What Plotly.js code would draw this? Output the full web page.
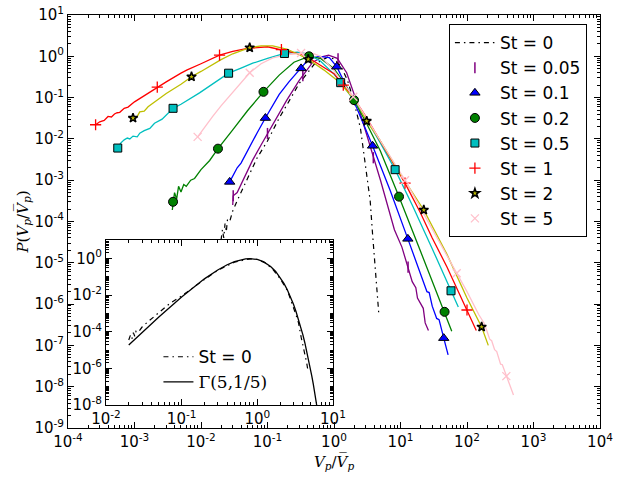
<!DOCTYPE html>
<html>
<head>
<meta charset="utf-8">
<script src="https://cdn.plot.ly/plotly-3.0.1.min.js"></script>
<style>html,body{margin:0;padding:0;background:#fff;}#chart{width:623px;height:481px;}</style>
</head>
<body>
<div id="chart"></div>
<script>
// ---------- data ----------
// St = 0 (black, dash-dot)
const st0_x = [0.020,0.021,0.022,0.023,0.024,0.025,0.027,0.030,0.035,0.040,0.050,0.070,0.10,0.15,0.20,0.30,0.50,0.80,1.0,1.26,1.6,2.0,2.5,3.2,3.5,3.8,4.2,4.5,4.7];
const st0_y = [3.5e-5,6.3e-5,4.0e-5,8.9e-5,5.6e-5,1.1e-4,1.0e-4,1.8e-4,3.2e-4,5.0e-4,1.1e-3,3.5e-3,8.9e-3,0.032,0.071,0.22,0.63,0.95,0.87,0.59,0.26,0.079,0.018,1.0e-3,3.2e-4,5.0e-5,7.9e-6,2.0e-6,6.3e-7];

// St = 0.05 (purple)
const st005_x = [0.030,0.0305,0.035,0.040,0.050,0.060,0.080,0.10,0.195,0.30,0.48,0.70,0.83,1.12,1.55,2.2,2.57,3.5,5.0,8.1,10.5,15,17,18,20,22,23.5,26.3];
const st005_y = [2.5e-4,4.2e-4,5.0e-4,7.9e-4,1.66e-3,3.1e-3,7.1e-3,0.0135,0.087,0.26,0.72,1.0,1.07,0.89,0.40,0.079,0.034,6.3e-3,1.0e-3,6.3e-5,2.4e-5,3.5e-6,2.5e-6,1.4e-6,1.0e-6,7.9e-7,3.5e-7,2.3e-7];
const st005_mx = [0.0305,0.10,0.34,1.15,3.9,13];
const st005_my = [4.2e-4,0.0135,0.34,0.87,3.5e-3,7.9e-6];

// St = 0.1 (blue)
const st01_x = [0.027,0.030,0.035,0.040,0.050,0.070,0.093,0.15,0.21,0.32,0.42,0.60,0.85,1.1,1.5,2.2,3.8,7.0,12.9,20,25,27,30,35,38,44.7,52];
const st01_y = [9.1e-4,1.26e-3,2.0e-3,2.6e-3,5.2e-3,0.0141,0.032,0.12,0.24,0.51,0.87,1.0,0.93,0.56,0.20,0.056,6.8e-3,5.6e-4,3.8e-5,5.6e-6,2.0e-6,1.9e-6,8.9e-7,4.5e-7,4.2e-7,1.5e-7,5.9e-8];
const st01_mx = [0.027,0.093,0.32,1.1,3.8,12.9,44.7];
const st01_my = [9.1e-4,0.032,0.51,0.56,6.8e-3,3.8e-5,1.5e-7];

// St = 0.2 (green)
const st02_x = [0.0037,0.0038,0.0040,0.0043,0.0046,0.0050,0.0055,0.0060,0.0070,0.0080,0.010,0.0135,0.018,0.030,0.050,0.087,0.15,0.25,0.42,0.63,1.0,1.5,2.0,3.0,5.0,9.5,20,30,46,59];
const st02_y = [1.9e-4,3.0e-4,5.0e-4,3.5e-4,7.1e-4,5.2e-4,7.9e-4,7.1e-4,1.0e-3,1.1e-3,1.8e-3,3.0e-3,5.8e-3,0.0166,0.048,0.138,0.35,0.72,1.0,0.89,0.50,0.20,0.087,0.026,5.0e-3,4.0e-4,1.9e-5,3.5e-6,6.5e-7,2.2e-7];
const st02_mx = [0.0038,0.018,0.087,0.42,2.0,9.5,46];
const st02_my = [3.0e-4,5.8e-3,0.138,1.0,0.087,4.0e-4,6.5e-7];

// St = 0.5 (cyan)
const st05_x = [5.6e-4,6.2e-4,7.0e-4,7.8e-4,8.5e-4,9.5e-4,1.1e-3,1.2e-3,1.4e-3,1.7e-3,2.0e-3,2.6e-3,3.8e-3,5.0e-3,9.5e-3,0.015,0.026,0.040,0.060,0.10,0.18,0.28,0.40,0.63,1.0,1.26,2.2,3.0,5.0,8.3,15,30,57.5,74];
const st05_y = [6.0e-3,7.9e-3,9.5e-3,0.0105,0.010,0.0117,0.0112,0.0138,0.0158,0.018,0.024,0.030,0.055,0.069,0.13,0.21,0.39,0.52,0.68,0.89,1.17,1.26,1.15,0.76,0.37,0.23,0.071,0.032,7.9e-3,1.8e-3,2.5e-4,2.2e-5,2.1e-6,8.5e-7];
const st05_mx = [5.6e-4,3.8e-3,0.026,0.18,1.26,8.3,57.5];
const st05_my = [6.0e-3,0.055,0.39,1.17,0.23,1.8e-3,2.1e-6];

// St = 1 (red)
const st1_x = [2.6e-4,3.0e-4,3.5e-4,4.0e-4,4.5e-4,5.0e-4,5.5e-4,6.0e-4,7.0e-4,8.0e-4,1.0e-3,1.5e-3,2.2e-3,3.0e-3,5.0e-3,6.2e-3,0.010,0.019,0.030,0.050,0.10,0.162,0.32,0.48,1.0,1.38,2.2,3.0,5.0,10,11.7,20,30,50,100,138];
const st1_y = [0.022,0.026,0.028,0.035,0.034,0.040,0.043,0.044,0.055,0.059,0.079,0.12,0.18,0.24,0.39,0.47,0.66,1.07,1.32,1.55,1.70,1.45,1.12,0.79,0.38,0.20,0.076,0.035,8.9e-3,1.35e-3,8.5e-4,1.6e-4,4.0e-5,7.9e-6,7.2e-7,2.3e-7];
const st1_mx = [2.6e-4,2.2e-3,0.019,0.162,1.38,11.7,100];
const st1_my = [0.022,0.18,1.07,1.45,0.20,8.5e-4,7.2e-7];

// St = 2 (yellow)
const st2_x = [9.5e-4,1.1e-3,1.2e-3,1.4e-3,1.6e-3,2.0e-3,3.0e-3,5.0e-3,7.2e-3,0.010,0.020,0.030,0.054,0.080,0.12,0.20,0.41,0.70,1.2,2.2,3.1,5.0,10,22.4,50,100,166,209];
const st2_y = [0.032,0.035,0.045,0.047,0.060,0.079,0.126,0.21,0.32,0.43,0.83,1.15,1.62,1.78,1.78,1.48,0.85,0.47,0.24,0.076,0.027,8.9e-3,1.4e-3,1.9e-4,1.6e-5,1.4e-6,2.8e-7,1.0e-7];
const st2_mx = [9.5e-4,7.2e-3,0.054,0.41,3.1,22.4,166];
const st2_my = [0.032,0.32,1.62,0.85,0.027,1.9e-4,2.8e-7];

// St = 5 (pink)
const st5_x = [8.9e-3,0.012,0.015,0.020,0.030,0.054,0.080,0.12,0.20,0.32,0.45,0.63,1.0,1.95,3.0,5.0,11.7,20,40,70,100,150,180,200,220,235,260,280,300,320,340,390,500];
const st5_y = [0.0112,0.022,0.035,0.063,0.135,0.40,0.66,0.91,1.10,1.20,1.23,1.0,0.45,0.105,0.035,8.9e-3,1.0e-3,2.1e-4,2.8e-5,5.6e-6,2.0e-6,5.6e-7,3.5e-7,2.2e-7,1.4e-7,1.3e-7,7.9e-8,7.1e-8,4.5e-8,3.5e-8,3.4e-8,1.8e-8,6.3e-9];
const st5_mx = [8.9e-3,0.054,0.32,1.95,11.7,70,390];
const st5_my = [0.0112,0.40,1.20,0.105,1.0e-3,5.6e-6,1.8e-8];

// Gamma(5, 1/5) curve of the inset
const gam_x = [0.02,0.03,0.05,0.1,0.15,0.2,0.3,0.4,0.5,0.6,0.7,0.8,1.0,1.2,1.5,1.75,2.0,2.25,2.5,2.75,3.0,3.25,3.5,3.75,4.0,4.25,4.5,4.75,5.0,5.25,5.5,5.75,6.0,6.3];
const gam_y = [1.88e-5,9.06e-5,6.34e-4,7.89e-3,0.0311,0.0766,0.235,0.451,0.668,0.840,0.944,0.977,0.877,0.669,0.365,0.194,0.0946,0.0434,0.0190,7.94e-3,3.23e-3,1.27e-3,4.91e-4,1.85e-4,6.87e-5,2.50e-5,9.03e-6,3.21e-6,1.13e-6,3.94e-7,1.36e-7,4.65e-8,1.58e-8,4.28e-9];

const labels = ['St = 0','St = 0.05','St = 0.1','St = 0.2','St = 0.5','St = 1','St = 2','St = 5'];

// tick labels
const mainX_vals = [1e-4,1e-3,1e-2,1e-1,1e0,1e1,1e2,1e3,1e4];
const mainX_text = ['10<sup>-4</sup>','10<sup>-3</sup>','10<sup>-2</sup>','10<sup>-1</sup>','10<sup>0</sup>','10<sup>1</sup>','10<sup>2</sup>','10<sup>3</sup>','10<sup>4</sup>'];
const mainY_vals = [1e-9,1e-8,1e-7,1e-6,1e-5,1e-4,1e-3,1e-2,1e-1,1e0,1e1];
const mainY_text = ['10<sup>-9</sup>','10<sup>-8</sup>','10<sup>-7</sup>','10<sup>-6</sup>','10<sup>-5</sup>','10<sup>-4</sup>','10<sup>-3</sup>','10<sup>-2</sup>','10<sup>-1</sup>','10<sup>0</sup>','10<sup>1</sup>'];
const insetX_vals = [1e-2,1e-1,1e0,1e1];
const insetX_text = ['10<sup>-2</sup>','10<sup>-1</sup>','10<sup>0</sup>','10<sup>1</sup>'];
const insetY_vals = [1e-8,1e-6,1e-4,1e-2,1e0];
const insetY_text = ['10<sup>-8</sup>','10<sup>-6</sup>','10<sup>-4</sup>','10<sup>-2</sup>','10<sup>0</sup>'];

// ---------- traces ----------
const LW = 1.3;
const DASHDOT = '5px,4px,1.5px,4px';
function line(x, y, color) {
  return {x: x, y: y, type: 'scatter', mode: 'lines', showlegend: false,
    line: {color: color, width: LW}, hoverinfo: 'skip'};
}
function marks(x, y, name, marker, grp) {
  return {x: x, y: y, type: 'scatter', mode: 'markers', name: name, legendgroup: grp,
    marker: marker, hoverinfo: 'skip'};
}
const st0Line = line(st0_x, st0_y, 'black');
st0Line.showlegend = true; st0Line.name = labels[0]; st0Line.legendgroup = 'g0';
st0Line.line = {color: 'black', width: 1.2, dash: DASHDOT};

const traces = [
  st0Line,
  line(st005_x, st005_y, '#800080'),
  line(st01_x, st01_y, '#0000ff'),
  line(st02_x, st02_y, '#008000'),
  line(st05_x, st05_y, '#00bfbf'),
  line(st1_x, st1_y, '#ff0000'),
  line(st2_x, st2_y, '#bfbf00'),
  line(st5_x, st5_y, '#ffc0cb'),
  marks(st005_mx, st005_my, labels[1], {symbol: 'line-ns', size: 8, color: '#800080', line: {color: '#800080', width: 1.5}}, 'g1'),
  marks(st01_mx, st01_my, labels[2], {symbol: 'triangle-up', size: 9, color: '#0000ff', line: {color: 'black', width: 1}}, 'g2'),
  marks(st02_mx, st02_my, labels[3], {symbol: 'circle', size: 9, color: '#008000', line: {color: 'black', width: 1}}, 'g3'),
  marks(st05_mx, st05_my, labels[4], {symbol: 'square', size: 8, color: '#00bfbf', line: {color: 'black', width: 1}}, 'g4'),
  marks(st1_mx, st1_my, labels[5], {symbol: 'cross-thin', size: 8, color: '#ff0000', line: {color: '#ff0000', width: 1.3}}, 'g5'),
  marks(st2_mx, st2_my, labels[6], {symbol: 'star', size: 7, color: '#bfbf00', line: {color: 'black', width: 1.5}}, 'g6'),
  marks(st5_mx, st5_my, labels[7], {symbol: 'x-thin', size: 8, color: '#ffc0cb', line: {color: '#ffc0cb', width: 1.3}}, 'g7'),
  // inset
  {x: st0_x, y: st0_y, xaxis: 'x2', yaxis: 'y2', type: 'scatter', mode: 'lines', name: 'St = 0',
   legend: 'legend2', line: {color: 'black', width: 1.2, dash: DASHDOT}, hoverinfo: 'skip'},
  {x: gam_x, y: gam_y, xaxis: 'x2', yaxis: 'y2', type: 'scatter', mode: 'lines',
   name: '<span style="font-family:DejaVu Serif">Γ(5,1/5)</span>',
   legend: 'legend2', line: {color: 'black', width: 1.3}, hoverinfo: 'skip'}
];

const tickFont = {family: 'DejaVu Sans', size: 15, color: 'black'};
function logAxis(range, vals, text, extra) {
  return Object.assign({type: 'log', range: range, tickmode: 'array', tickvals: vals, ticktext: text,
    showgrid: false, zeroline: false, showline: true, linecolor: 'black', linewidth: 1,
    mirror: 'allticks', ticks: 'inside', ticklen: 6, tickwidth: 1, tickcolor: 'black',
    tickfont: tickFont, minor: {ticks: 'inside', ticklen: 3, tickwidth: 1, tickcolor: 'black', dtick: 'D1'}}, extra || {});
}

const layout = {
  width: 623, height: 481,
  margin: {l: 68, r: 23, t: 15, b: 53},
  paper_bgcolor: 'white', plot_bgcolor: 'white',
  font: {family: 'DejaVu Sans', size: 15, color: 'black'},
  xaxis: logAxis([-4, 4], mainX_vals, mainX_text, {anchor: 'y', domain: [0, 1],
    title: {text: '<i>V</i><sub><i>p</i></sub>/<i>V\u0305</i><sub><i>p</i></sub>',
      font: {family: 'DejaVu Serif', size: 15}, standoff: 6}}),
  yaxis: logAxis([-9, 1], mainY_vals, mainY_text, {anchor: 'x', domain: [0, 1],
    title: {text: '<i>P</i>(<i>V</i><sub><i>p</i></sub>/<i>V\u0305</i><sub><i>p</i></sub>)',
      font: {family: 'DejaVu Serif', size: 15}, standoff: 2}}),
  xaxis2: logAxis([-2, 1], insetX_vals, insetX_text, {anchor: 'y2', domain: [0.0714, 0.498]}),
  yaxis2: logAxis([-8, 1], insetY_vals, insetY_text, {anchor: 'x2', domain: [0.0557, 0.455]}),
  showlegend: true,
  legend: {x: 0.716, y: 0.978, xanchor: 'left', yanchor: 'top', bgcolor: 'white',
    bordercolor: 'black', borderwidth: 1, font: {family: 'DejaVu Sans', size: 17, color: 'black'},
    itemwidth: 40, tracegroupgap: 0, traceorder: 'grouped'},
  legend2: {x: 0.17, y: 0.215, xanchor: 'left', yanchor: 'top', bgcolor: 'rgba(0,0,0,0)',
    borderwidth: 0, font: {family: 'DejaVu Sans', size: 17, color: 'black'}, itemwidth: 30}
};

Plotly.newPlot('chart', traces, layout, {staticPlot: true, displayModeBar: false});
</script>
</body>
</html>
